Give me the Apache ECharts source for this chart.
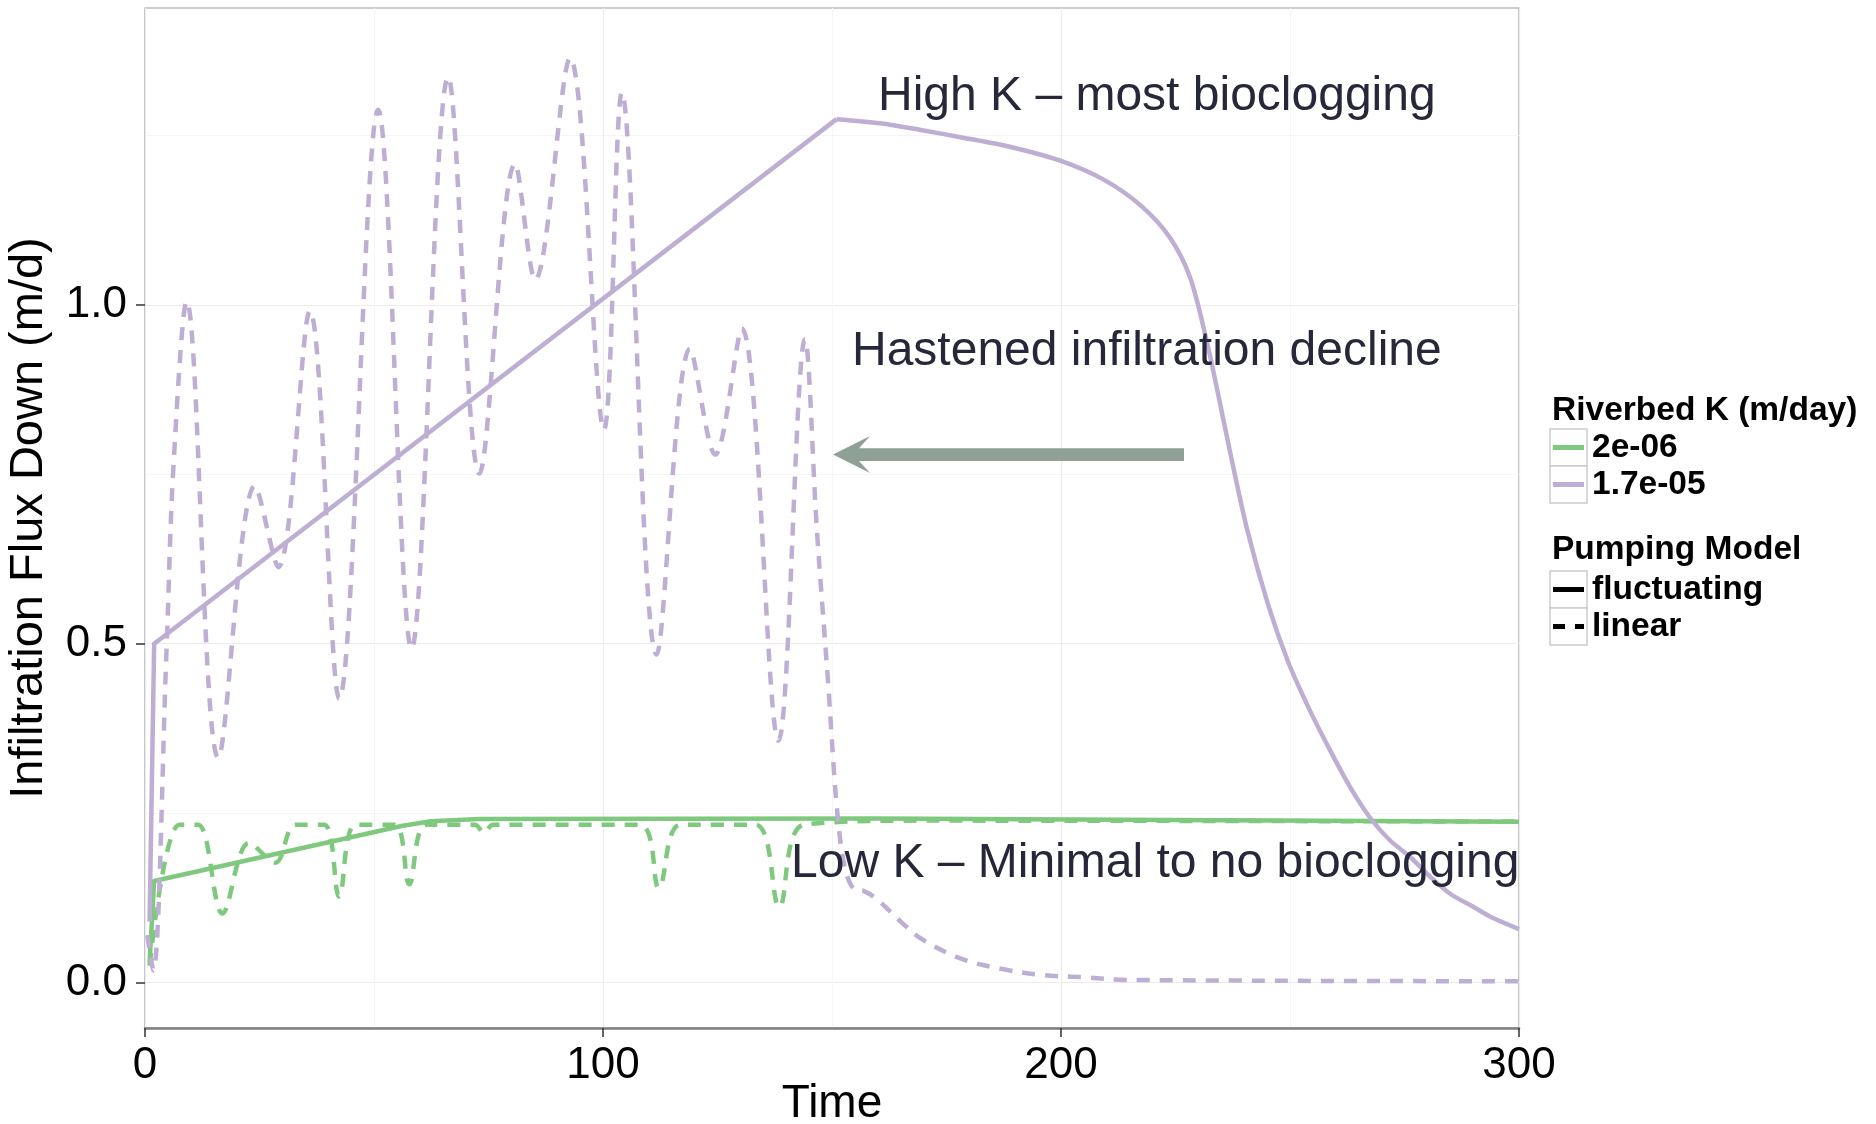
<!DOCTYPE html>
<html>
<head>
<meta charset="utf-8">
<title>Infiltration Flux Down</title>
<script src="https://cdn.jsdelivr.net/npm/echarts@6/dist/echarts.min.js"></script>
<style>
  html, body { margin: 0; padding: 0; background: #ffffff; }
  #chart { width: 1876px; height: 1124px; }
</style>
</head>
<body>
<div id="chart"></div>
<script>
// ---- axis ticks ----
const timeTicks = [0, 100, 200, 300];
const fluxTicks = [0, 0.5, 1.0];
const fluxMinorTicks = [0.25, 0.75, 1.25];

// ---- legend categories ----
const riverbedK = ['2e-06', '1.7e-05'];
const pumpingModels = ['fluctuating', 'linear'];

// ---- series: [time, infiltration flux down (m/d)] ----
// Riverbed K = 2e-06, fluctuating pumping
const lowKFluctuating = [
  [1, 0.03], [2, 0.15], [56, 0.231], [62.4, 0.238], [73, 0.2414],
  [160, 0.242], [300, 0.2375]
];

// Riverbed K = 2e-06, linear pumping
const lowKLinear = [
  [1, 0.025], [7.5, 0.233], [11.6, 0.233], [16.9, 0.102], [22.7, 0.206],
  [28.5, 0.177], [32.8, 0.233], [39.1, 0.233], [42.4, 0.127], [46, 0.233],
  [54.5, 0.233], [57.7, 0.145], [61.4, 0.233], [72, 0.233], [74, 0.221],
  [76, 0.233], [107.9, 0.233], [112.2, 0.14], [116.9, 0.233], [133.3, 0.233],
  [138.5, 0.112], [143.9, 0.233], [172, 0.239], [300, 0.2375]
];

// Riverbed K = 1.7e-05, fluctuating pumping (straight ramp up to the peak at t = 151, then decline)
const highKFluctuating = [
  [1, 0.09], [2, 0.5], [151, 1.274], [160.5, 1.268], [169.4, 1.258],
  [178.3, 1.247], [189, 1.233], [199.7, 1.213], [209.5, 1.184], [217.5, 1.146],
  [223.8, 1.099], [228.2, 1.04], [231.8, 0.947], [234.5, 0.862], [237.1, 0.777],
  [240.7, 0.667], [245.2, 0.558], [249.6, 0.473], [254.1, 0.405], [258.5, 0.346],
  [263, 0.29], [267.4, 0.244], [271.8, 0.21], [276.3, 0.185], [280.8, 0.155],
  [285.2, 0.13], [289.7, 0.113], [294.1, 0.096], [300, 0.079]
];
const highKPeakIndex = 2;

// Riverbed K = 1.7e-05, linear pumping
const highKLinear = [
  [0.5, 0.07], [1.8, 0.018], [4.7, 0.49], [6.2, 0.76], [9.1, 1.005],
  [16, 0.332], [24, 0.733], [29.1, 0.613], [36, 0.991], [42.4, 0.419],
  [50.9, 1.288], [58.2, 0.493], [66.2, 1.336], [73, 0.751], [80.8, 1.208],
  [85.2, 1.037], [92.8, 1.364], [100.2, 0.816], [104.1, 1.313], [111.7, 0.484],
  [119, 0.935], [124.5, 0.779], [130.3, 0.965], [138.3, 0.357], [144.1, 0.949],
  [146.7, 0.668], [149.2, 0.438], [151, 0.263], [152.8, 0.17], [155, 0.137],
  [157, 0.135], [160, 0.122], [165, 0.09], [169.4, 0.065], [178.3, 0.035],
  [187.2, 0.02], [196, 0.011], [205, 0.008], [214, 0.004], [300, 0.002]
];

// ---- styling ----
const FONT = '"Liberation Sans", Arial, Helvetica, sans-serif';
const kColors = ['#7fc97f', '#beaed4'];
const DASH = [13, 10];
const LINE_W = 4.5;
const NOTE_COLOR = '#27273a';
const ARROW_COLOR = '#8fa096';

const chart = echarts.init(document.getElementById('chart'), null, { renderer: 'canvas' });

function lineSeries(name, data, color, dashed, smooth) {
  return {
    name: name,
    type: 'line',
    data: data,
    showSymbol: false,
    symbol: 'none',
    smooth: smooth,
    clip: true,
    lineStyle: { color: color, width: LINE_W, type: dashed ? DASH : 'solid', cap: 'butt', join: 'round' },
    emphasis: { disabled: true },
    animation: false
  };
}

// ---- legend (two titled groups) ----
function legendGraphics() {
  const items = [];
  const x0 = 1550, keyW = 37, keyH = 37, textX = 1592;
  const groups = [
    { title: 'Riverbed K (m/day)', titleY: 411, top: 429,
      entries: riverbedK.map((k, i) => ({ label: k, color: kColors[i], dashed: false })) },
    { title: 'Pumping Model', titleY: 550, top: 571,
      entries: pumpingModels.map((m, i) => ({ label: m, color: '#000000', dashed: i === 1 })) }
  ];
  groups.forEach(g => {
    items.push({
      type: 'text', x: x0 + 2, y: g.titleY, z: 100,
      style: { text: g.title, font: 'bold 33.5px ' + FONT, fill: '#000', align: 'left', verticalAlign: 'middle' }
    });
    g.entries.forEach((e, i) => {
      const y = g.top + i * keyH;
      items.push({
        type: 'rect', z: 100,
        shape: { x: x0, y: y, width: keyW, height: keyH },
        style: { fill: '#ffffff', stroke: '#cccccc', lineWidth: 1.5 }
      });
      items.push({
        type: 'line', z: 101,
        shape: { x1: x0 + 3, y1: y + keyH / 2, x2: x0 + keyW - 3, y2: y + keyH / 2 },
        style: { stroke: e.color, lineWidth: 5, lineDash: e.dashed ? [12, 10] : null }
      });
      items.push({
        type: 'text', x: textX, y: y + keyH / 2, z: 100,
        style: { text: e.label, font: 'bold 33.5px ' + FONT, fill: '#000', align: 'left', verticalAlign: 'middle' }
      });
    });
  });
  return items;
}

// ---- annotations ----
function noteText(text, x, y) {
  return {
    type: 'text', x: x, y: y, z: 100,
    style: { text: text, font: '48px ' + FONT, fill: NOTE_COLOR, align: 'left', verticalAlign: 'middle' }
  };
}

const annotations = [
  noteText('High K \u2013 most bioclogging', 878, 97),
  noteText('Hastened infiltration decline', 852, 352),
  noteText('Low K \u2013 Minimal to no bioclogging', 791, 864),
  {
    type: 'polygon', z: 100,
    shape: { points: [[833, 454.5], [870, 436], [859, 448.3], [1184, 448.3], [1184, 461], [859, 461], [870, 473]] },
    style: { fill: ARROW_COLOR }
  }
];

const option = {
  backgroundColor: '#ffffff',
  animation: false,
  grid: {
    left: 145, right: 357, top: 8, bottom: 96,
    outerBoundsMode: 'none', containLabel: false,
    show: true, borderColor: '#9a9a9a', borderWidth: 1.2, backgroundColor: '#ffffff'
  },
  xAxis: {
    type: 'value',
    min: timeTicks[0], max: timeTicks[timeTicks.length - 1], interval: 100,
    name: 'Time', nameLocation: 'middle', nameGap: 53, nameMoveOverlap: false,
    nameTextStyle: { fontFamily: FONT, fontSize: 46, color: '#000' },
    axisLine: { show: true, onZero: false, lineStyle: { color: '#7f7f7f', width: 2.5 } },
    axisTick: { show: true, length: 9, lineStyle: { color: '#333', width: 1.5 } },
    axisLabel: { fontFamily: FONT, fontSize: 44, color: '#000', margin: 16 },
    splitLine: { show: true, lineStyle: { color: '#ececec', width: 1.2 } },
    minorTick: { show: false, splitNumber: 2 },
    minorSplitLine: { show: true, lineStyle: { color: '#f5f5f5', width: 1 } }
  },
  yAxis: [
    {
      type: 'value',
      min: -0.067, max: 1.438,
      name: 'Infiltration Flux Down (m/d)', nameLocation: 'middle', nameGap: 92,
      nameTextStyle: { fontFamily: FONT, fontSize: 47, color: '#000' },
      axisLine: { show: false },
      axisTick: { show: true, length: 9, customValues: fluxTicks, lineStyle: { color: '#333', width: 1.5 } },
      axisLabel: { fontFamily: FONT, fontSize: 44, color: '#000', margin: 18,
                   customValues: fluxTicks, formatter: v => v.toFixed(1) },
      splitLine: { show: true, lineStyle: { color: '#ececec', width: 1.2 } }
    },
    {
      // minor grid lines only
      type: 'value', position: 'right',
      min: -0.067, max: 1.438,
      axisLine: { show: false },
      axisTick: { show: false, customValues: fluxMinorTicks },
      axisLabel: { show: false, customValues: fluxMinorTicks },
      splitLine: { show: true, lineStyle: { color: '#f5f5f5', width: 1 } }
    }
  ],
  series: [
    lineSeries('2e-06 fluctuating', lowKFluctuating, kColors[0], false, false),
    lineSeries('2e-06 linear', lowKLinear, kColors[0], true, 0.35),
    lineSeries('1.7e-05 fluctuating', highKFluctuating.slice(0, highKPeakIndex + 1), kColors[1], false, false),
    lineSeries('1.7e-05 fluctuating', highKFluctuating.slice(highKPeakIndex), kColors[1], false, 0.3),
    lineSeries('1.7e-05 linear', highKLinear, kColors[1], true, 0.35)
  ],
  graphic: { elements: annotations.concat(legendGraphics()) }
};

chart.setOption(option);
</script>
</body>
</html>
